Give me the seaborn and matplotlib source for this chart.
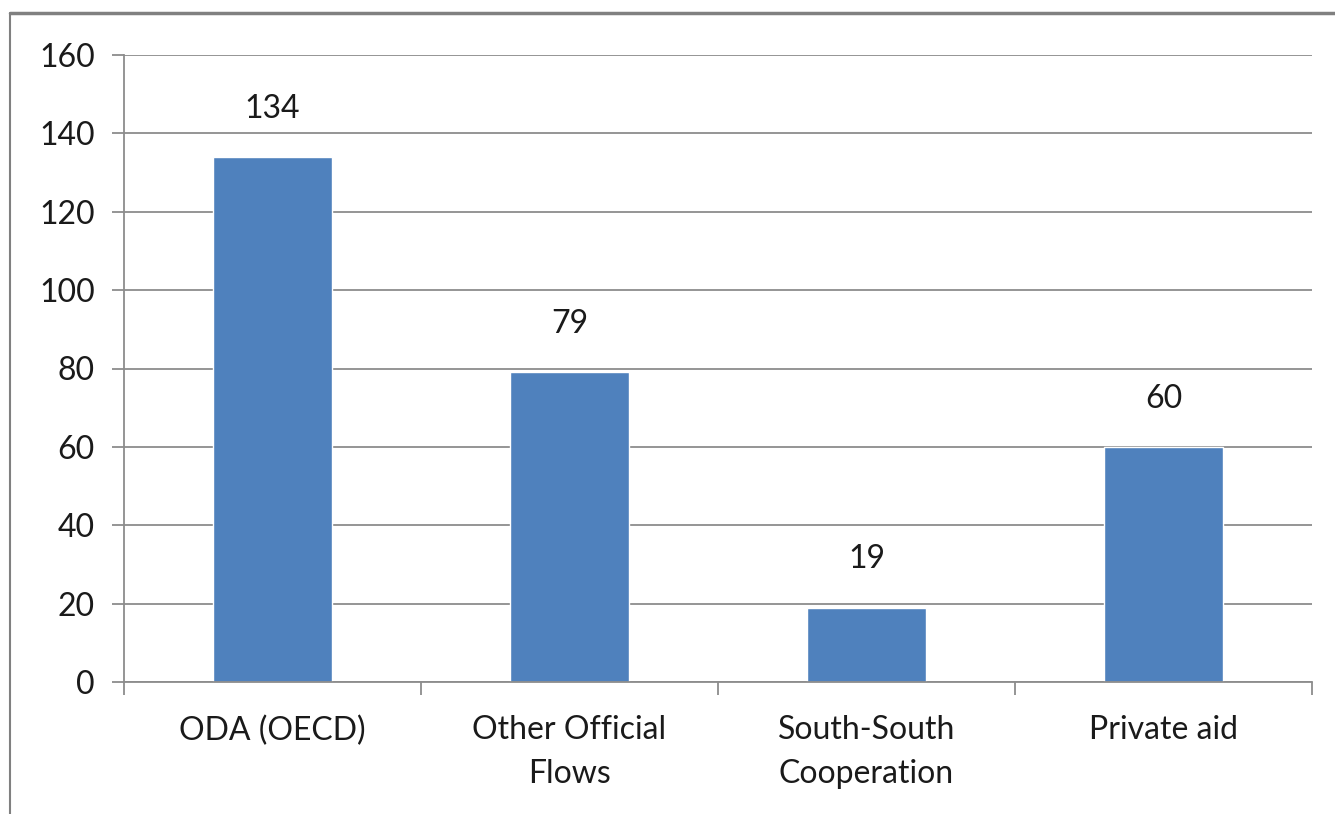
import matplotlib
matplotlib.use("Agg")
import matplotlib.pyplot as plt
import seaborn as sns
import pandas as pd
from matplotlib.lines import Line2D

# data
categories = ["ODA (OECD)", "Other Official\nFlows", "South-South\nCooperation", "Private aid"]
values = [134, 79, 19, 60]
yticks = [0, 20, 40, 60, 80, 100, 120, 140, 160]

df = pd.DataFrame({"category": categories, "value": values})

sns.set_style("white")
plt.rcParams['font.family'] = ['Lato', 'DejaVu Sans']

fig = plt.figure(figsize=(13.35, 8.14), dpi=100)
ax = fig.add_axes([124 / 1335, 1 - 682 / 814, (1312 - 124) / 1335, (682 - 55) / 814])

sns.barplot(data=df, x="category", y="value", color="#4F81BD", saturation=1,
            width=0.4, ax=ax)

grid_col = "#8c8c8c"
txt_col = "#1a1a1a"
ax.set_ylim(0, 160)
ax.set_xlim(-0.5, len(categories) - 0.5)
ax.set_yticks(yticks)
ax.yaxis.grid(True, color=grid_col, linewidth=1.3)
ax.set_axisbelow(True)

for side in ["top", "right"]:
    ax.spines[side].set_visible(False)
for side in ["left", "bottom"]:
    ax.spines[side].set_color(grid_col)
    ax.spines[side].set_linewidth(1.3)

ax.tick_params(axis="y", which="major", left=True, length=9, width=1.3, color=grid_col,
               direction="out", pad=12, labelsize=23, labelcolor=txt_col)
# x ticks sit between categories, labels centred under bars
ax.set_xticks([i - 0.5 for i in range(len(categories) + 1)], minor=True)
ax.tick_params(axis="x", which="minor", bottom=True, length=9, width=1.3,
               color=grid_col, direction="out")
ax.tick_params(axis="x", which="major", bottom=True, length=0, pad=24,
               labelsize=23, labelcolor=txt_col)
for lab in ax.get_xticklabels():
    lab.set_linespacing(1.55)
ax.set_xlabel("")
ax.set_ylabel("")

for i, v in enumerate(values):
    ax.annotate(str(v), (i, v), xytext=(0, 24), textcoords="offset points",
                ha="center", va="bottom", fontsize=23, color=txt_col)

# chart-area border (top and left edges visible)
fig.add_artist(Line2D([10 / 1335, 1.0], [1 - 13 / 814, 1 - 13 / 814],
                      transform=fig.transFigure, color="#808080", linewidth=2.5))
fig.add_artist(Line2D([10 / 1335, 10 / 1335], [0.0, 1 - 13 / 814],
                      transform=fig.transFigure, color="#808080", linewidth=1.5))

fig.savefig("out.png", dpi=100, facecolor="white")
